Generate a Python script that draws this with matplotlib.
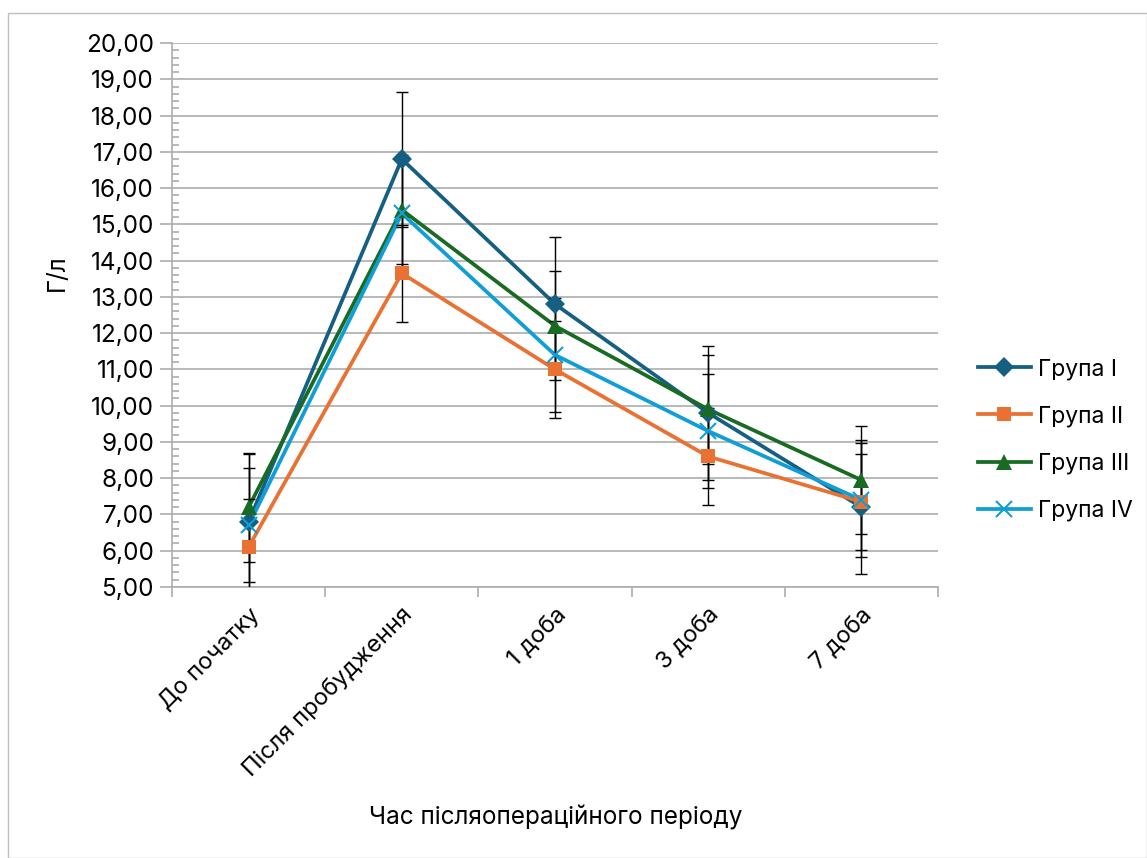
import matplotlib.pyplot as plt
from matplotlib.lines import Line2D
from matplotlib.patches import Rectangle
from matplotlib.ticker import MultipleLocator, FuncFormatter

plt.rcParams['font.family'] = ['Inter', 'DejaVu Sans']

periods = ['До початку', 'Після пробудження', '1 доба', '3 доба', '7 доба']
groups = ['Група I', 'Група II', 'Група III', 'Група IV']

group1 = [6.8, 16.8, 12.8, 9.8, 7.2]
group2 = [6.1, 13.65, 11.0, 8.6, 7.35]
group3 = [7.2, 15.4, 12.2, 9.9, 7.95]
group4 = [6.7, 15.3, 11.4, 9.3, 7.4]

err1 = [1.86, 1.86, 1.86, 1.84, 1.85]
err2 = [1.33, 1.33, 1.33, 1.33, 1.33]
err3 = [1.5, 1.5, 1.5, 1.5, 1.5]
err4 = [1.57, 1.57, 1.57, 1.57, 1.57]

values = [group1, group2, group3, group4]
errors = [err1, err2, err3, err4]
colors = ['#156082', '#E97132', '#196B24', '#0F9ED5']
markers = ['D', 's', '^', 'x']
msizes = [10, 10.5, 11, 12]

fig = plt.figure(figsize=(11.47, 8.58), dpi=100)
fig.patches.append(Rectangle((8 / 1147, 0), 1 - 8 / 1147, 1 - 13 / 858,
                             transform=fig.transFigure, fill=False,
                             edgecolor='#BFBFBF', linewidth=1))
ax = fig.add_axes([172 / 1147, 1 - 587 / 858, (938 - 172) / 1147, (587 - 43) / 858])

x = list(range(len(periods)))
handles = []
for vals, errs, c, m, ms in zip(values, errors, colors, markers, msizes):
    ax.plot(x, vals, color=c, linewidth=2.7, zorder=3, solid_capstyle='round')
    ax.errorbar(x, vals, yerr=errs, fmt='none', ecolor='black', elinewidth=1,
                capsize=4.5, capthick=1, zorder=4)
    mew = 1.5 if m == 'x' else 0
    ax.plot(x, vals, linestyle='none', marker=m, markersize=ms, color=c,
            markeredgewidth=mew, markeredgecolor=c, zorder=5)
    handles.append(Line2D([], [], color=c, linewidth=2.7, marker=m, markersize=ms,
                          markeredgewidth=mew, markeredgecolor=c))

ax.set_xlim(-0.5, len(periods) - 0.5)
ax.set_ylim(5, 20)
ax.yaxis.set_major_locator(MultipleLocator(1))
ax.yaxis.set_minor_locator(MultipleLocator(0.2))
ax.yaxis.set_major_formatter(FuncFormatter(lambda v, p: f'{v:.2f}'.replace('.', ',')))
ax.grid(axis='y', which='major', color='#ADADAD', linewidth=1.2, zorder=0)
ax.set_axisbelow(True)

ax.set_xticks([i - 0.5 for i in range(len(periods) + 1)])
ax.set_xticklabels([])
ax.set_xticks(x, minor=True)
ax.set_xticklabels(periods, minor=True, rotation=45, ha='right',
                   rotation_mode='anchor', fontsize=17)
ax.tick_params(axis='x', which='minor', length=0, pad=12)
ax.tick_params(axis='x', which='major', length=7, color='#ADADAD', width=1.2)
ax.tick_params(axis='y', which='major', length=9, color='#ADADAD', width=1.2,
               labelsize=17.5, pad=4)
ax.tick_params(axis='y', which='minor', direction='in', length=5, color='#ADADAD',
               width=1.2)

for side in ['top', 'right']:
    ax.spines[side].set_visible(False)
for side in ['left', 'bottom']:
    ax.spines[side].set_color('#ADADAD')
    ax.spines[side].set_linewidth(1.2)

fig.text(57 / 1147, 1 - 273 / 858, 'Г/л', fontsize=17.5, rotation=90,
         ha='center', va='center')
fig.text(556 / 1147, 1 - 818 / 858, 'Час післяопераційного періоду',
         fontsize=17.5, ha='center', va='center')

fig.legend(handles, groups, loc='center left', bbox_to_anchor=(978 / 1147, 1 - 440 / 858),
           frameon=False, fontsize=16.5, handlelength=2.3, handletextpad=0.3,
           labelspacing=1.1, borderpad=0, borderaxespad=0)

fig.savefig('out.png', dpi=100)
